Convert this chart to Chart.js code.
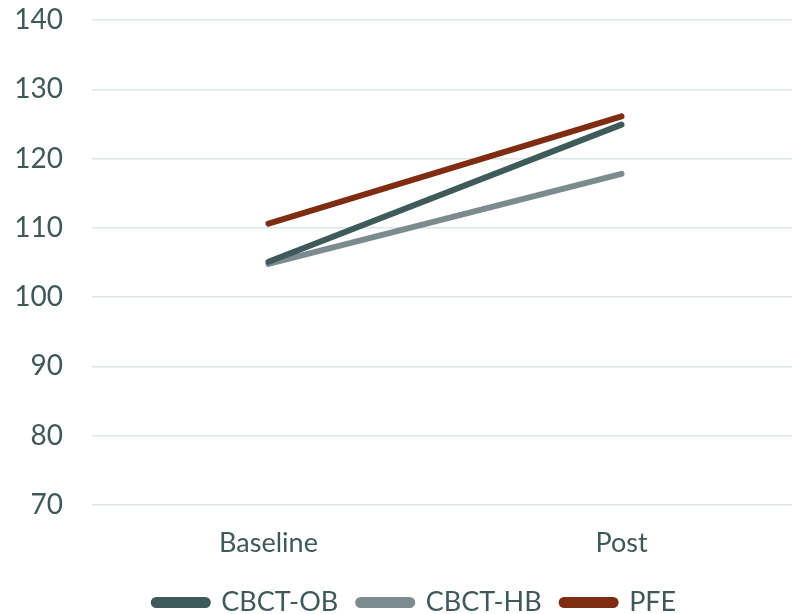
<!DOCTYPE html>
<html>
<head>
<meta charset="utf-8">
<script src="https://cdn.jsdelivr.net/npm/chart.js@4/dist/chart.umd.min.js"></script>
<style>
  html, body { margin: 0; padding: 0; background: #fff; overflow: hidden; }
  /* a touch wider than the window: the original plot runs past the right edge */
  #wrap { position: relative; width: 798px; height: 614px; }
</style>
</head>
<body>
<div id="wrap"><canvas id="chart"></canvas></div>
<script>
const categories = ["Baseline", "Post"];
const cbctOB = [105.1, 124.9];
const cbctHB = [104.8, 117.8];
const pfe = [110.6, 126.1];
const yTicks = [70, 80, 90, 100, 110, 120, 130, 140];

const textColour = "#3f5858";
const fontFamily = "Lato";
const colours = {
  ob: "#3f5a5a",
  hb: "#7b8b8f",
  pfe: "#7f2d12",
};

const line = (label, data, colour) => ({
  label,
  data,
  borderColor: colour,
  backgroundColor: colour,
  borderWidth: 6,
  borderCapStyle: "round",
  pointRadius: 0,
  pointHoverRadius: 0,
  tension: 0,
});

// the legend in the original sits a bit right of centre
const legendShift = {
  id: "legendShift",
  afterLayout(chart) {
    chart.legend.left += 16;
    chart.legend.right += 16;
  },
};

new Chart(document.getElementById("chart"), {
  type: "line",
  data: {
    labels: categories,
    datasets: [
      line("CBCT-OB", cbctOB, colours.ob),
      line("CBCT-HB", cbctHB, colours.hb),
      line("PFE", pfe, colours.pfe),
    ],
  },
  plugins: [legendShift],
  options: {
    responsive: true,
    maintainAspectRatio: false,
    animation: false,
    layout: { padding: { top: 20, left: 0, right: 0, bottom: -12 } },
    plugins: {
      tooltip: { enabled: false },
      legend: {
        position: "bottom",
        labels: {
          color: textColour,
          font: { family: fontFamily, size: 27 },
          boxWidth: 54,
          boxHeight: 5,
          useBorderRadius: true,
          borderRadius: 2.5,
          padding: 20,
        },
      },
    },
    scales: {
      x: {
        offset: true,
        grid: { display: false },
        border: { display: false },
        ticks: {
          color: textColour,
          font: { family: fontFamily, size: 27 },
          padding: 14,
        },
        afterFit: (axis) => {
          axis.height = 64;
          axis.paddingLeft = 0;
          axis.paddingRight = 0;
        },
      },
      y: {
        min: yTicks[0],
        max: yTicks[yTicks.length - 1],
        afterBuildTicks: (axis) => {
          axis.ticks = yTicks.map((v) => ({ value: v }));
        },
        grid: { color: "#dde6e6", lineWidth: 1.5, drawTicks: false },
        border: { display: false },
        ticks: {
          color: textColour,
          font: { family: fontFamily, size: 28 },
          padding: 29,
        },
        afterFit: (axis) => {
          axis.width = 92;
          axis.paddingTop = 0;
          axis.paddingBottom = 0;
        },
      },
    },
  },
});
</script>
</body>
</html>
